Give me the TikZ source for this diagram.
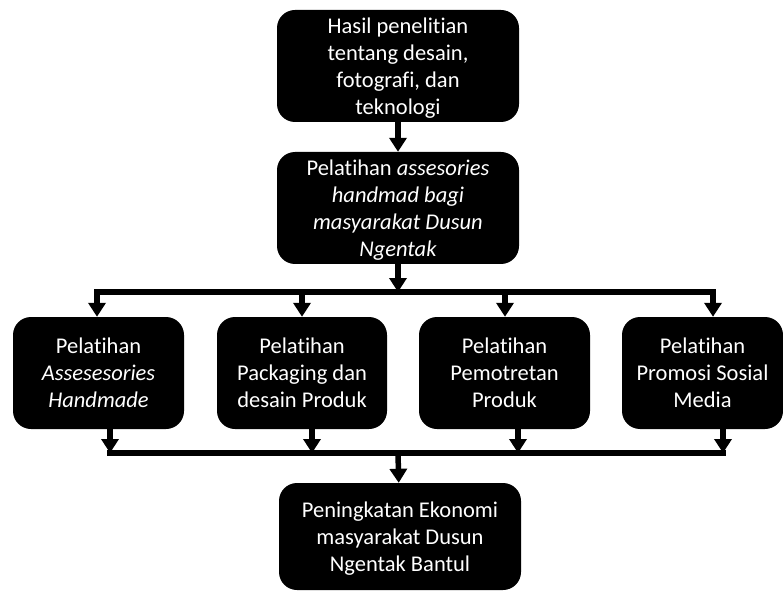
\documentclass[tikz,border=0pt]{standalone}
\usepackage{fontspec}
\setmainfont{Carlito}[Ligatures=NoCommon]
\usetikzlibrary{arrows.meta}

\begin{document}
\begin{tikzpicture}[x=1pt,y=-1pt,
  kotak/.style={rectangle,rounded corners=18pt,fill=black,text=white,align=center,inner sep=0pt,font=\fontsize{22.5}{27}\selectfont},
  panah/.style={line width=5.5pt,-{Triangle[width=17pt,length=14pt]}},
  garis/.style={line width=5.5pt,line cap=rect}]
  \useasboundingbox (0,0) rectangle (783,593);
  \node[kotak,minimum width=242pt,minimum height=112pt,text depth=0pt] (hasil) at (398,66) {Hasil penelitian\\tentang desain,\\fotografi, dan\\teknologi};
  \node[kotak,minimum width=242pt,minimum height=112pt,text depth=0pt] (latih) at (398,208) {Pelatihan \textit{assesories}\\\textit{handmad bagi}\\\textit{masyarakat Dusun}\\\textit{Ngentak}};
  \node[kotak,minimum width=171pt,minimum height=112pt] (p1) at (98.5,373) {Pelatihan\\\textit{Assesesories}\\\textit{Handmade}};
  \node[kotak,minimum width=170pt,minimum height=112pt] (p2) at (302,373) {Pelatihan\\Packaging dan\\desain Produk};
  \node[kotak,minimum width=171pt,minimum height=112pt] (p3) at (504.5,373) {Pelatihan\\Pemotretan\\Produk};
  \node[kotak,minimum width=161pt,minimum height=112pt] (p4) at (702.5,373) {Pelatihan\\Promosi Sosial\\Media};
  \node[kotak,minimum width=242pt,minimum height=107pt,text depth=0pt] (hasilakhir) at (400,536.5) {Peningkatan Ekonomi\\masyarakat Dusun\\Ngentak Bantul};
  % garis atas
  \coordinate (t1) at (97,292);
  \coordinate (t2) at (302,292);
  \coordinate (t3) at (505,292);
  \coordinate (t4) at (713,292);
  % garis bawah
  \coordinate (b1) at (110,453);
  \coordinate (b2) at (312,453);
  \coordinate (b3) at (518,453);
  \coordinate (b4) at (723,453);
  \coordinate (bm) at (398,453);
  \draw[panah] (hasil) -- (latih);
  \draw[panah] (latih) -- (latih |- t1);
  \draw[garis] (t1) -- (t4);
  \draw[panah] (t1) -- (t1 |- p1.north);
  \draw[panah] (t2) -- (t2 |- p2.north);
  \draw[panah] (t3) -- (t3 |- p3.north);
  \draw[panah] (t4) -- (t4 |- p4.north);
  \draw[garis] (b1) -- (b4);
  \draw[panah] (p1.south -| b1) -- (b1);
  \draw[panah] (p2.south -| b2) -- (b2);
  \draw[panah] (p3.south -| b3) -- (b3);
  \draw[panah] (p4.south -| b4) -- (b4);
  \draw[panah] (bm) -- (hasilakhir);
\end{tikzpicture}
\end{document}
